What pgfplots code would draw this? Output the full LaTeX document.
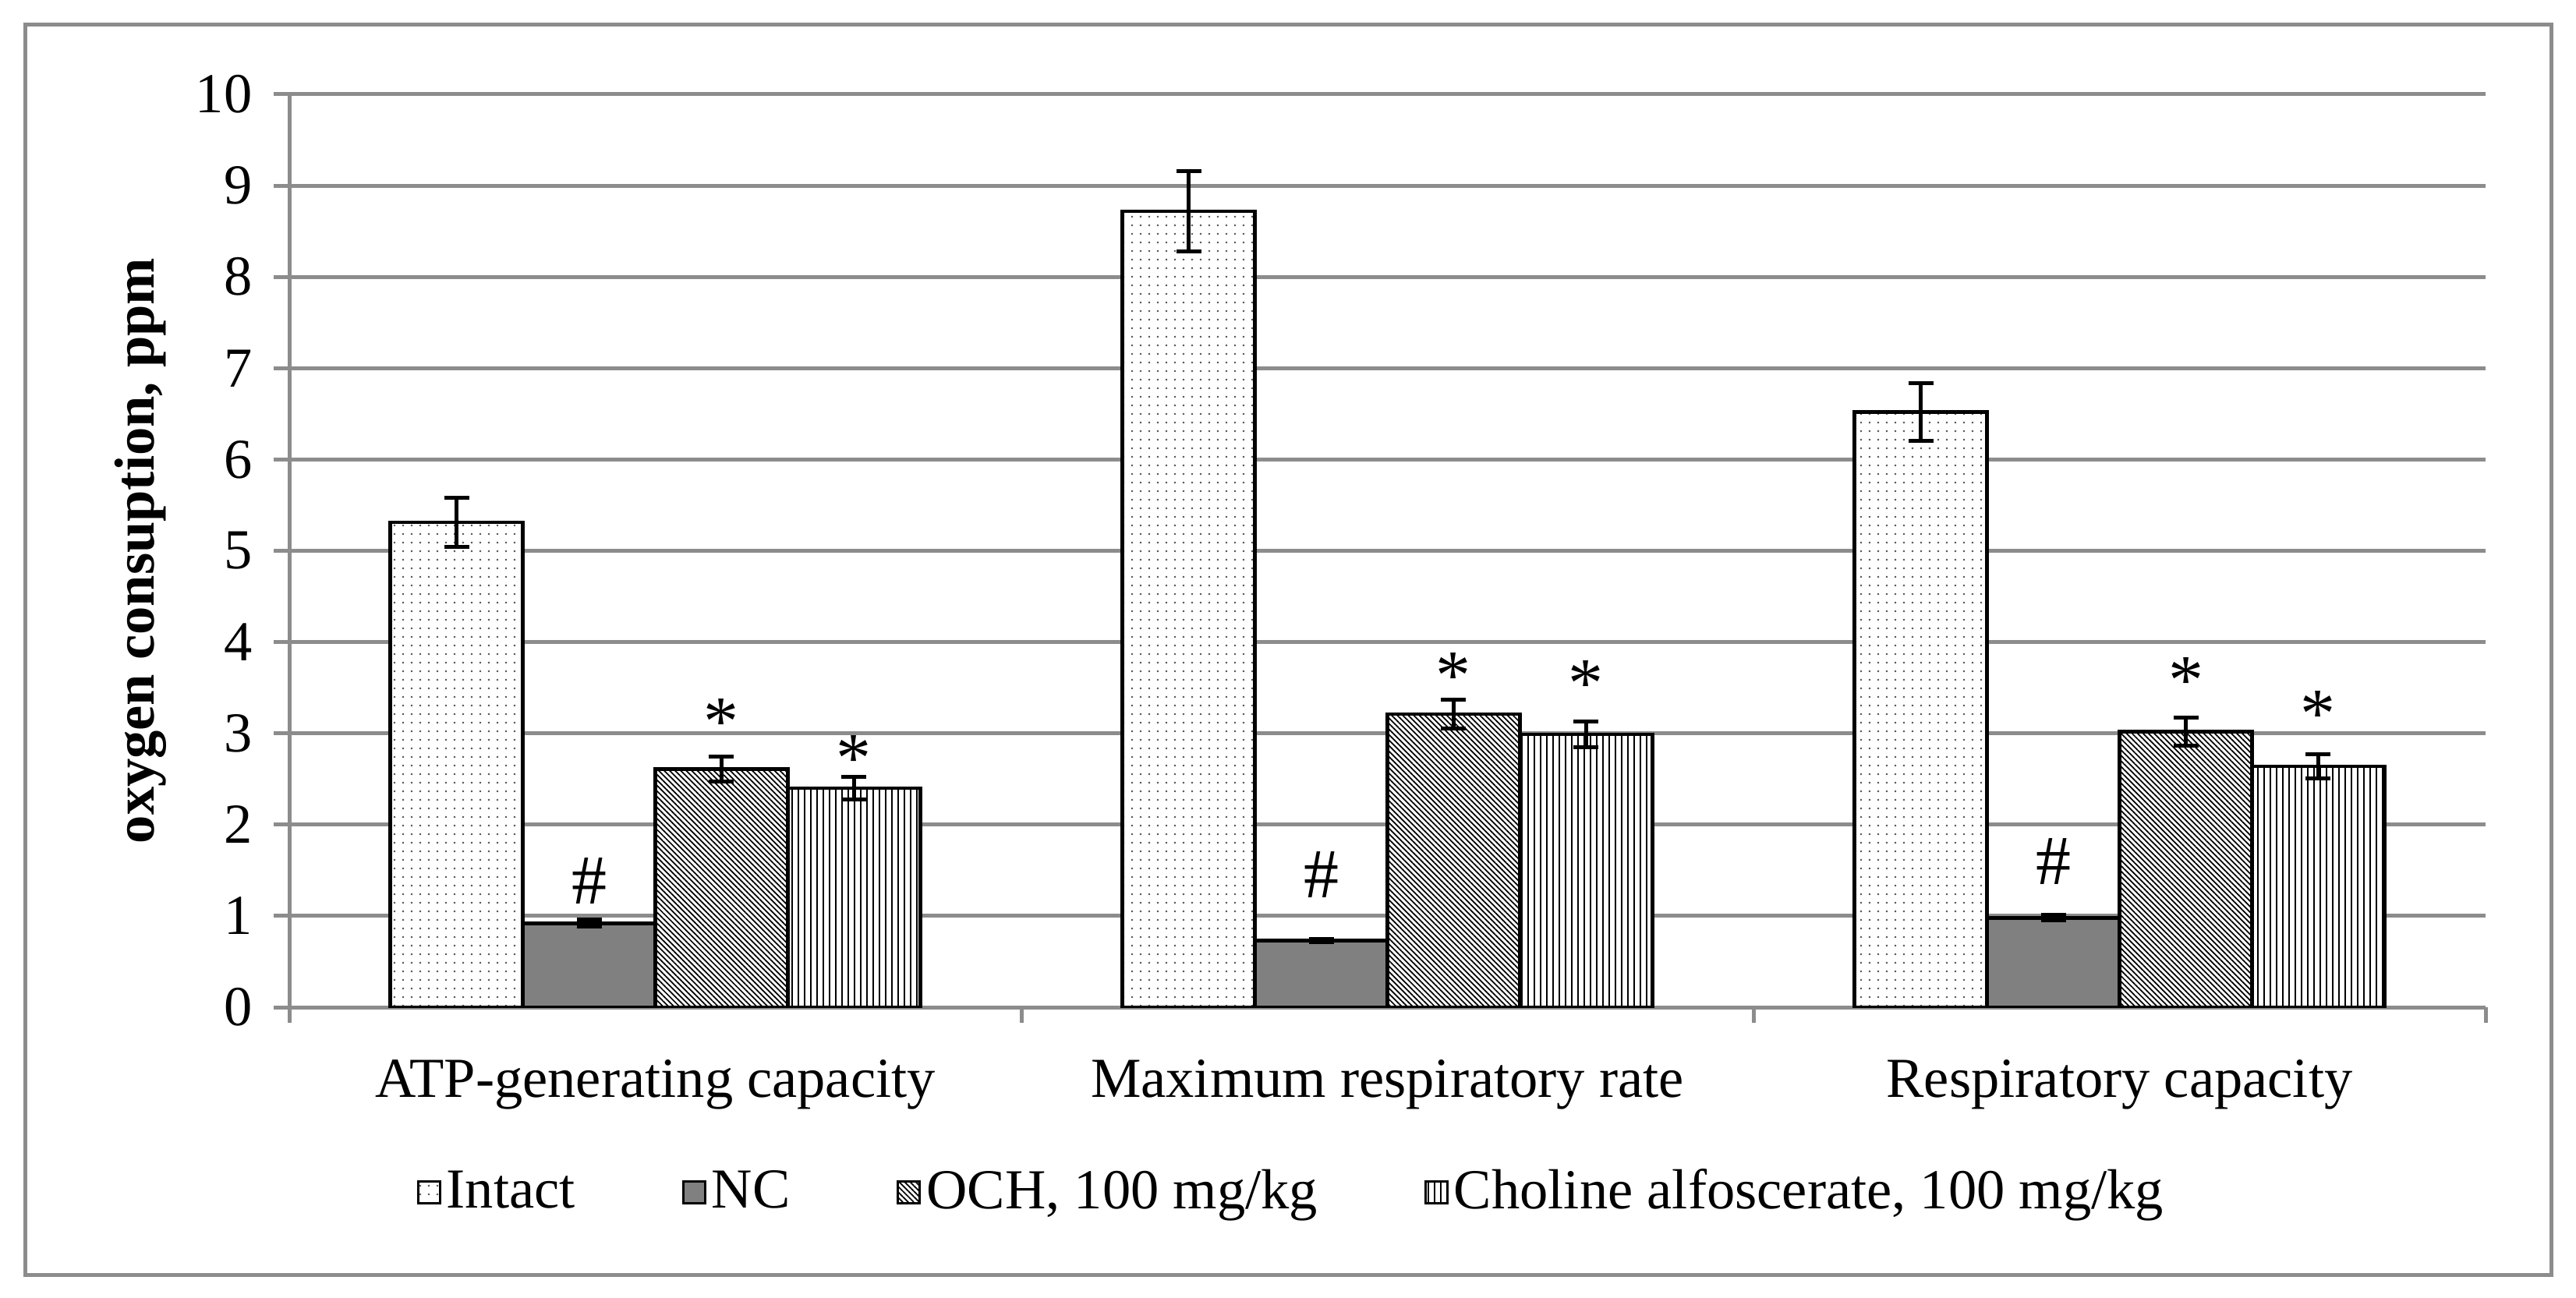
\documentclass[border=0pt]{standalone}
\usepackage{fontspec}
\setmainfont{Liberation Serif}
\usepackage{pgfplots}
\usepackage{pgfplotstable}
\pgfplotsset{compat=1.18}
\usetikzlibrary{patterns.meta}

\definecolor{gridgray}{RGB}{140,140,140}
\newcommand{\chfont}{\fontsize{14.5}{17}\selectfont}
\newcommand{\markfont}{\fontsize{18}{20}\selectfont}

\pgfplotstableread{
x y e
0 5.31 0.27
1 8.72 0.44
2 6.52 0.32
}\intact
\pgfplotstableread{
x y e
0 0.92 0.04
1 0.73 0.02
2 0.98 0.03
}\nc
\pgfplotstableread{
x y e
0 2.61 0.135
1 3.21 0.16
2 3.02 0.155
}\och
\pgfplotstableread{
x y e
0 2.40 0.12
1 2.99 0.14
2 2.64 0.13
}\choline

\pgfplotsset{sqlegend/.style={legend image code/.code={\draw[##1, line width=0.6pt] (0pt,-2.8pt) rectangle (5.6pt,2.8pt);}}}

\begin{document}
\begin{tikzpicture}
\path (0,0) rectangle (660.8pt,332.8pt);
\draw[gridgray, line width=1pt] (6.4pt,5.8pt) rectangle (654.4pt,326.4pt);
\begin{axis}[
  at={(74.2pt,74.4pt)}, anchor=south west,
  scale only axis, width=563.4pt, height=234.2pt,
  xmin=-0.5, xmax=2.5, ymin=0, ymax=10,
  axis x line*=bottom, axis y line*=left,
  axis line style={gridgray, line width=1pt, -},
  xtick={0,1,2},
  xticklabels={ATP-generating capacity, Maximum respiratory rate, Respiratory capacity},
  minor xtick={-0.5,0.5,1.5,2.5},
  major x tick style={draw=none},
  minor tick length=4pt,
  ytick={0,1,...,10},
  major tick length=4pt,
  tick align=outside,
  tick style={gridgray, line width=1pt},
  ymajorgrids, grid style={gridgray, line width=1pt},
  /pgf/number format/assume math mode=true,
  tick label style={font=\chfont},
  yticklabel style={xshift=-2pt},
  xticklabel style={yshift=-6pt},
  ylabel={oxygen consuption, ppm},
  ylabel style={at={(axis description cs:-0.0678,0.5)}, anchor=center, font=\chfont\bfseries},
  legend columns=4,
  legend style={at={(0.457,-0.2024)}, anchor=center, draw=none, font=\chfont,
    /tikz/every even column/.append style={column sep=26pt},
    nodes={inner sep=1.4pt}},
  ybar, bar width=0.181,
  error bars/y dir=both, error bars/y explicit,
  error bars/error bar style={line width=1pt, black},
  error bars/error mark options={rotate=90, mark size=3.2pt, line width=1pt, black},
]
\addplot[ybar, bar shift=-0.2715, draw=black, line width=0.9pt, fill=white,
  postaction={pattern={Dots[distance=2.2pt, radius=0.28pt]}, pattern color=black!70}, sqlegend]
  table[x=x, y=y, y error=e]{\intact};
\addplot[ybar, bar shift=-0.0905, draw=black, line width=0.9pt, fill=black!50, sqlegend]
  table[x=x, y=y, y error=e]{\nc};
\addplot[ybar, bar shift=0.0905, draw=black, line width=0.9pt, fill=white,
  postaction={pattern={Lines[angle=-45, distance=1.0pt, line width=0.35pt]}, pattern color=black}, sqlegend]
  table[x=x, y=y, y error=e]{\och};
\addplot[ybar, bar shift=0.2715, draw=black, line width=0.9pt, fill=white,
  postaction={pattern={Lines[angle=90, distance=1.6pt, line width=0.45pt]}, pattern color=black}, sqlegend]
  table[x=x, y=y, y error=e]{\choline};
\legend{Intact, NC, {OCH, 100 mg/kg}, {Choline alfoscerate, 100 mg/kg}}

\node[font=\markfont] at (axis cs:-0.0905,1.38) {\#};
\node[font=\markfont] at (axis cs:0.9095,1.45) {\#};
\node[font=\markfont] at (axis cs:1.9095,1.60) {\#};
\node[font=\markfont, yshift=-3pt] at (axis cs:0.0905,3.25) {*};
\node[font=\markfont, yshift=-3pt] at (axis cs:0.2715,2.85) {*};
\node[font=\markfont, yshift=-3pt] at (axis cs:1.0905,3.76) {*};
\node[font=\markfont, yshift=-3pt] at (axis cs:1.2715,3.67) {*};
\node[font=\markfont, yshift=-3pt] at (axis cs:2.0905,3.71) {*};
\node[font=\markfont, yshift=-3pt] at (axis cs:2.2715,3.34) {*};
\end{axis}
\end{tikzpicture}
\end{document}
